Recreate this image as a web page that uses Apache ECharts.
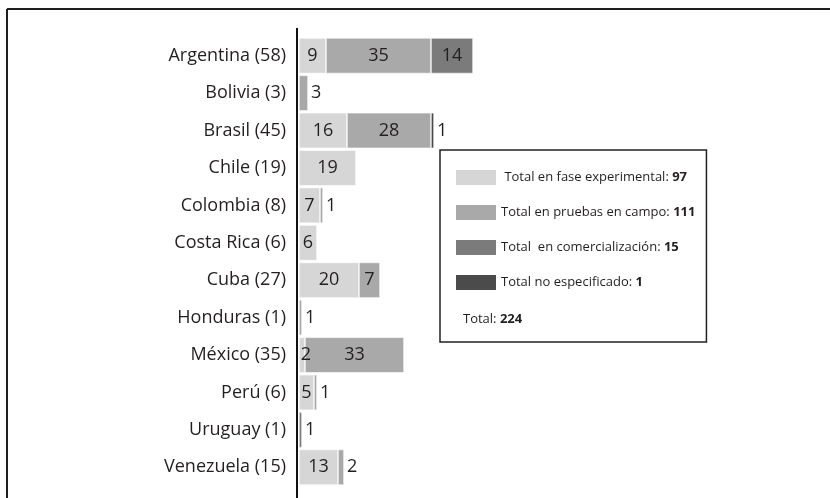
<!DOCTYPE html>
<html>
<head>
<meta charset="utf-8">
<script src="https://cdn.jsdelivr.net/npm/echarts@6/dist/echarts.min.js"></script>
<style>
  html, body { margin: 0; padding: 0; background: #fff; }
  #chart { width: 830px; height: 498px; }
</style>
</head>
<body>
<div id="chart"></div>
<script>
// Países y número de eventos por fase
const countries = ['Argentina', 'Bolivia', 'Brasil', 'Chile', 'Colombia', 'Costa Rica',
  'Cuba', 'Honduras', 'México', 'Perú', 'Uruguay', 'Venezuela'];

const seriesNames = ['Total en fase experimental', 'Total en pruebas en campo',
  'Total  en comercialización', 'Total no especificado'];

const experimental     = [9, null, 16, 19, 7, 6, 20, null, 2, 5, null, 13];
const pruebasCampo     = [35, 3, 28, null, 1, null, 7, 1, 33, 1, null, 2];
const comercializacion = [14, null, null, null, null, null, null, null, null, null, 1, null];
const noEspecificado   = [null, null, 1, null, null, null, null, null, null, null, null, null];

const colors = ['#d6d6d6', '#a9a9a9', '#7b7b7b', '#4b4b4b'];
const textColor = '#231f20';
const fontFamily = '"Open Sans", "Noto Sans", sans-serif';

const seriesData = [experimental, pruebasCampo, comercializacion, noEspecificado];

// Totales por país (etiqueta de categoría) y por fase (leyenda)
const rowTotals = countries.map((_, i) =>
  seriesData.reduce((s, arr) => s + (arr[i] || 0), 0));
const categoryLabels = countries.map((c, i) => c + ' (' + rowTotals[i] + ')');
const phaseTotals = {};
seriesNames.forEach((n, k) => {
  phaseTotals[n] = seriesData[k].reduce((s, v) => s + (v || 0), 0);
});
const grandTotal = rowTotals.reduce((s, v) => s + v, 0);

// Primer y último segmento no nulo de cada fila
const lastIndex = countries.map((_, i) => {
  let last = -1;
  seriesData.forEach((arr, k) => { if (arr[i] != null) last = k; });
  return last;
});
const firstIndex = countries.map((_, i) => seriesData.findIndex(arr => arr[i] != null));

const series = seriesData.map((arr, k) => ({
  name: seriesNames[k],
  type: 'bar',
  stack: 'total',
  barCategoryGap: '5%',
  itemStyle: { color: colors[k], borderColor: '#ffffff', borderWidth: 0.6 },
  label: {
    show: true,
    position: 'inside',
    color: textColor,
    fontSize: 18,
    fontFamily: fontFamily,
    formatter: p => (p.value == null ? '' : String(p.value))
  },
  data: arr.map((v, i) => {
    if (v == null) return null;
    if (v < 4 && k === lastIndex[i]) {
      // segmento estrecho al final de la fila: etiqueta a la derecha
      return { value: v, label: { position: 'right', distance: 3 } };
    }
    if (v < 4 && k === firstIndex[i]) {
      // segmento estrecho al inicio: etiqueta desplazada fuera del eje
      return { value: v, label: { offset: [4, 0] } };
    }
    return v;
  })
}));

const chart = echarts.init(document.getElementById('chart'), null, { renderer: 'canvas' });
chart.setOption({
  animation: false,
  backgroundColor: '#ffffff',
  grid: { left: 299, right: 351, top: 37, bottom: 12, containLabel: false },
  xAxis: {
    type: 'value', min: 0, max: 60, show: false
  },
  yAxis: {
    type: 'category',
    inverse: true,
    data: categoryLabels,
    axisLine: { show: false },
    axisTick: { show: false },
    axisLabel: { color: textColor, fontSize: 18, fontFamily: fontFamily, margin: 13 }
  },
  legend: {
    orient: 'vertical',
    left: 440,
    top: 150,
    icon: 'rect',
    itemWidth: 40,
    itemHeight: 15,
    itemGap: 20,
    padding: [20, 11, 52, 16],
    backgroundColor: '#ffffff',
    borderColor: '#222222',
    borderWidth: 1.5,
    borderRadius: 0,
    selectedMode: false,
    itemStyle: { borderWidth: 0 },
    data: seriesNames,
    formatter: name => (name === seriesNames[0] ? ' ' : '') + name + ': {b|' + phaseTotals[name] + '}',
    textStyle: {
      color: textColor, fontSize: 13, fontFamily: fontFamily,
      rich: { b: { fontWeight: 'bold', fontSize: 13, color: textColor, fontFamily: fontFamily } }
    }
  },
  graphic: [
    // marco exterior
    { type: 'line', shape: { x1: 7, y1: 9, x2: 830, y2: 9 }, style: { stroke: '#1e1e1e', lineWidth: 2 }, z: 20 },
    { type: 'line', shape: { x1: 7, y1: 9, x2: 7, y2: 498 }, style: { stroke: '#1e1e1e', lineWidth: 2 }, z: 20 },
    // eje vertical
    { type: 'line', shape: { x1: 297, y1: 28, x2: 297, y2: 498 }, style: { stroke: '#111111', lineWidth: 2 }, z: 20 },
    // total general dentro del recuadro de la leyenda
    {
      type: 'text', left: 463, top: 313, z: 20,
      style: {
        text: 'Total: {b|' + grandTotal + '}',
        fill: textColor,
        font: '13px ' + fontFamily,
        rich: { b: { fontWeight: 'bold', fontSize: 13, fill: textColor, fontFamily: fontFamily } }
      }
    }
  ],
  series: series
});
</script>
</body>
</html>
